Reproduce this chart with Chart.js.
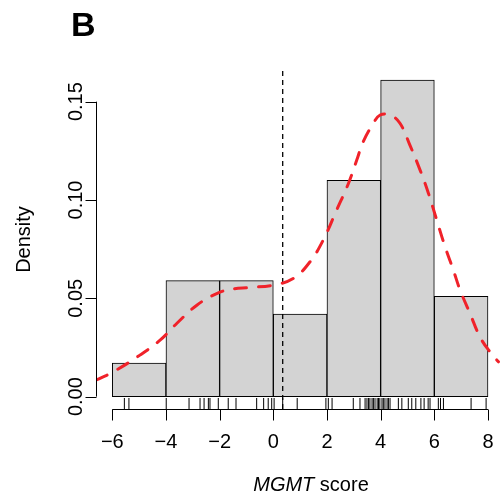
<!DOCTYPE html>
<html>
<head>
<meta charset="utf-8">
<script src="https://cdn.jsdelivr.net/npm/chart.js@4/dist/chart.umd.min.js"></script>
<style>
  html, body { margin: 0; padding: 0; background: #fff; }
  canvas { display: block; }
</style>
</head>
<body>
<canvas id="hist-chart" width="502" height="498"></canvas>
<script>
// histogram bins (centres) and densities
const binCenters = [-5, -3, -1, 1, 3, 5, 7];
const binDensity = [0.017, 0.059, 0.059, 0.042, 0.110, 0.161, 0.051];

// kernel density curve
const curveX = [-6.6, -6.46, -5.96, -4.97, -4.22, -3.60, -2.85, -2.11, -1.61, -0.87, 0, 0.75, 1.37, 1.86, 2.36, 2.80, 3.11, 3.35, 3.73, 3.98, 4.35, 4.72, 5.09, 5.47, 5.78, 6.09, 6.40, 6.71, 6.96, 7.33, 7.70, 8.07, 8.39, 8.6];
const curveY = [0.0084, 0.0093, 0.0126, 0.0211, 0.0287, 0.0372, 0.0465, 0.0524, 0.0545, 0.0555, 0.0567, 0.0601, 0.0686, 0.0796, 0.0949, 0.1084, 0.1203, 0.1296, 0.1390, 0.1432, 0.1432, 0.1390, 0.1279, 0.1152, 0.1034, 0.0898, 0.0762, 0.0643, 0.0542, 0.0423, 0.0304, 0.0228, 0.0177, 0.0145];

// individual scores (rug)
const rugValues = [-5.55, -5.38, -3.99, -3.14, -2.73, -2.58, -2.42, -2.36, -2.05, -1.68, -1.39, -0.62, -0.36, -0.19, -0.06, 0.03, 0.35, 0.89, 1.96, 2.05, 2.19, 2.98, 3.23, 3.42, 3.49, 3.55, 3.60, 3.68, 3.73, 3.79, 3.87, 3.92, 3.97, 4.05, 4.10, 4.16, 4.24, 4.29, 4.35, 4.66, 4.79, 5.03, 5.16, 5.31, 5.50, 5.62, 5.77, 5.84, 6.15, 6.23, 6.34, 7.37, 7.93];

// cutoff line
const cutoff = 0.35;

const xTicks = [-6, -4, -2, 0, 2, 4, 6, 8];
const xTickLabels = ["\u22126", "\u22124", "\u22122", "0", "2", "4", "6", "8"];
const yTicks = [0, 0.05, 0.10, 0.15];
const yTickLabels = ["0.00", "0.05", "0.10", "0.15"];

// plot area ends ~6.5px before the canvas edge (point overflow padding)
const X_MIN = -6.57, X_MAX = 8.28;
const Y_MIN = -0.0063, Y_MAX = 0.1661;
const FONT = "Liberation Sans, Arial, sans-serif";

// R-style axes, labels and panel letter
const rAxes = {
  id: "rAxes",
  afterDraw(chart) {
    const { ctx, chartArea, scales } = chart;
    const xs = scales.x, ys = scales.y;
    ctx.save();
    ctx.strokeStyle = "#000";
    ctx.fillStyle = "#000";
    ctx.lineWidth = 1;

    // x axis
    const yb = chartArea.bottom + 0.5;
    ctx.beginPath();
    ctx.moveTo(xs.getPixelForValue(xTicks[0]), yb);
    ctx.lineTo(xs.getPixelForValue(xTicks[xTicks.length - 1]), yb);
    xTicks.forEach((t) => {
      const px = Math.round(xs.getPixelForValue(t)) + 0.5;
      ctx.moveTo(px, yb);
      ctx.lineTo(px, yb + 11);
    });
    ctx.stroke();
    ctx.font = "20px " + FONT;
    ctx.textAlign = "center";
    ctx.textBaseline = "alphabetic";
    xTicks.forEach((t, i) => {
      ctx.fillText(xTickLabels[i], xs.getPixelForValue(t), 447.5);
    });

    // y axis
    const xl = chartArea.left - 0.5;
    ctx.beginPath();
    ctx.moveTo(xl, ys.getPixelForValue(yTicks[0]));
    ctx.lineTo(xl, ys.getPixelForValue(yTicks[yTicks.length - 1]));
    yTicks.forEach((t) => {
      const py = Math.round(ys.getPixelForValue(t)) + 0.5;
      ctx.moveTo(xl, py);
      ctx.lineTo(xl - 11, py);
    });
    ctx.stroke();
    yTicks.forEach((t, i) => {
      ctx.save();
      ctx.translate(81.5, ys.getPixelForValue(t));
      ctx.rotate(-Math.PI / 2);
      ctx.fillText(yTickLabels[i], 0, 0);
      ctx.restore();
    });

    // axis titles
    ctx.save();
    ctx.translate(30, (chartArea.top + chartArea.bottom) / 2);
    ctx.rotate(-Math.PI / 2);
    ctx.fillText("Density", 0, 0);
    ctx.restore();

    ctx.font = "italic 20px " + FONT;
    const w1 = ctx.measureText("MGMT").width;
    ctx.font = "20px " + FONT;
    const w2 = ctx.measureText(" score").width;
    const x0 = 311 - (w1 + w2) / 2;
    ctx.textAlign = "left";
    ctx.font = "italic 20px " + FONT;
    ctx.fillText("MGMT", x0, 490.5);
    ctx.font = "20px " + FONT;
    ctx.fillText(" score", x0 + w1, 490.5);

    ctx.font = "bold 34px " + FONT;
    ctx.fillText("B", 71, 36);
    ctx.restore();
  }
};

new Chart(document.getElementById("hist-chart"), {
  type: "scatter",
  data: {
    datasets: [
      {
        type: "bar",
        data: binCenters.map((c, i) => ({ x: c, y: binDensity[i] })),
        backgroundColor: "#d3d3d3",
        borderColor: "#000",
        borderWidth: 1,
        borderSkipped: false,
        barPercentage: 1,
        categoryPercentage: 1,
        order: 4,
      },
      {
        type: "scatter",
        data: rugValues.map((v) => ({ x: v, y: -0.0035 })),
        pointStyle: "line",
        rotation: 90,
        radius: 5.5,
        borderColor: "#000",
        borderWidth: 1,
        order: 3,
      },
      {
        type: "line",
        data: [{ x: cutoff, y: Y_MIN }, { x: cutoff, y: Y_MAX }],
        borderColor: "#000",
        borderWidth: 1.3,
        borderDash: [5, 4],
        pointRadius: 0,
        clip: 0,
        order: 2,
      },
      {
        type: "line",
        data: curveX.map((x, i) => ({ x: x, y: curveY[i] })),
        borderColor: "#f0222a",
        borderWidth: 3,
        borderDash: [12, 12],
        borderCapStyle: "round",
        tension: 0.4,
        pointRadius: 0,
        clip: { left: 0, top: 0, right: 10, bottom: 0 },
        order: 1,
      },
    ],
  },
  options: {
    responsive: false,
    animation: false,
    devicePixelRatio: 1,
    layout: { padding: { left: 97, top: 70, right: 0, bottom: 89 } },
    plugins: { legend: { display: false }, tooltip: { enabled: false } },
    scales: {
      x: { type: "linear", min: X_MIN, max: X_MAX, offset: false, display: false },
      y: { type: "linear", min: Y_MIN, max: Y_MAX, display: false },
    },
  },
  plugins: [rAxes],
});
</script>
</body>
</html>
